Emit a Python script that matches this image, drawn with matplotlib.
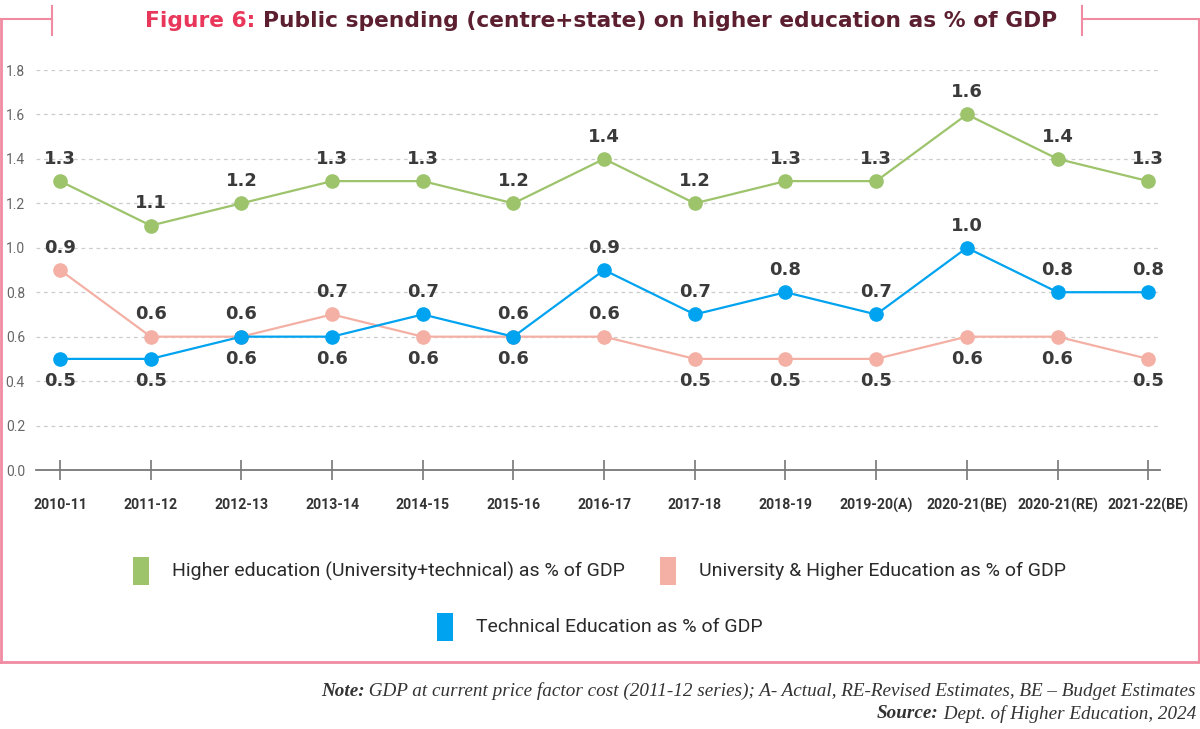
import matplotlib
matplotlib.use("Agg")
import matplotlib.pyplot as plt
from matplotlib.lines import Line2D
from matplotlib.patches import Rectangle

years = ["2010-11", "2011-12", "2012-13", "2013-14", "2014-15", "2015-16", "2016-17",
         "2017-18", "2018-19", "2019-20(A)", "2020-21(BE)", "2020-21(RE)", "2021-22(BE)"]
higher = [1.3, 1.1, 1.2, 1.3, 1.3, 1.2, 1.4, 1.2, 1.3, 1.3, 1.6, 1.4, 1.3]
university = [0.9, 0.6, 0.6, 0.7, 0.6, 0.6, 0.6, 0.5, 0.5, 0.5, 0.6, 0.6, 0.5]
technical = [0.5, 0.5, 0.6, 0.6, 0.7, 0.6, 0.9, 0.7, 0.8, 0.7, 1.0, 0.8, 0.8]
yticks = [0.0, 0.2, 0.4, 0.6, 0.8, 1.0, 1.2, 1.4, 1.6, 1.8]
names = ["Higher education (University+technical) as % of GDP",
         "University & Higher Education as % of GDP",
         "Technical Education as % of GDP"]

# label placement: 1 = above, -1 = below
pos_higher = [1] * 13
pos_univ = [1, 1, 1, 1, -1, -1, 1, -1, -1, -1, -1, -1, -1]
pos_tech = [-1, -1, -1, -1, 1, 1, 1, 1, 1, 1, 1, 1, 1]

c_green = "#9DC36B"
c_pink = "#F4B0A4"
c_blue = "#00A3EF"
c_frame = "#F08BA2"
narrow = ["Roboto", "DejaVu Sans"]

W, H = 1200, 729
fig = plt.figure(figsize=(12, 7.29), dpi=100)
fig.patch.set_facecolor("white")

ax = fig.add_axes([36 / W, 1 - 470 / H, (1160 - 36) / W, 400 / H])
x = list(range(len(years)))
ax.set_xlim(-0.265, len(years) - 1 + 0.13)
ax.set_ylim(0, 1.8)

for vals, col, pos in [(higher, c_green, pos_higher), (university, c_pink, pos_univ),
                       (technical, c_blue, pos_tech)]:
    ax.plot(x, vals, color=col, lw=1.6, marker="o", ms=9.5, zorder=3, clip_on=False)
    for xi, v, p in zip(x, vals, pos):
        ax.annotate(f"{v:.1f}", (xi, v), xytext=(0, 16 * p), textcoords="offset points",
                    ha="center", va="center", fontsize=13, fontweight="bold",
                    color="#3A3A3A", family="DejaVu Sans", zorder=4)

for t in yticks[1:]:
    ax.axhline(t, color="#CCCCCC", lw=0.9, ls=(0, (3, 3)), zorder=1)

for s in ["top", "right", "left"]:
    ax.spines[s].set_visible(False)
ax.spines["bottom"].set_color("#777777")
ax.spines["bottom"].set_linewidth(1.3)
ax.set_yticks(yticks)
ax.set_yticklabels([f"{t:.1f}" for t in yticks], fontsize=10, color="#666666", family=narrow)
ax.tick_params(axis="y", length=0, pad=8)
ax.set_xticks(x)
ax.set_xticklabels(years, fontsize=10.2, fontweight="bold", color="#333333", family=narrow)
ax.tick_params(axis="x", direction="inout", length=14, width=1.2, color="#777777", pad=13)

# legend
def legend_item(px, py, col, label):
    fig.add_artist(Rectangle((px / W, 1 - (py + 14) / H), 16 / W, 28 / H,
                             transform=fig.transFigure, color=col, lw=0))
    fig.text((px + 39) / W, 1 - py / H, label, fontsize=14, color="#2A2A2A",
             family=narrow, va="center", ha="left")

legend_item(133, 571, c_green, names[0])
legend_item(660, 571, c_pink, names[1])
legend_item(437, 627, c_blue, names[2])

# frame
def fline(x0, y0, x1, y1, lw=1.5):
    fig.add_artist(Line2D([x0 / W, x1 / W], [1 - y0 / H, 1 - y1 / H], color=c_frame,
                          lw=lw, transform=fig.transFigure))

fline(0, 19, 52, 19)
fline(1082, 19, 1199, 19)
fline(52, 6, 52, 35)
fline(1082, 6, 1082, 35)
fline(1, 19, 1, 662, lw=2)
fline(1198.5, 19, 1198.5, 662)
fline(0, 662, 1200, 662, lw=2)

fig.canvas.draw()
r = fig.canvas.get_renderer()

# title
t1 = fig.text(0, 0, "Figure 6: ", fontsize=15.7, fontweight="bold", color="#E8375A")
t2 = fig.text(0, 0, "Public spending (centre+state) on higher education as % of GDP",
              fontsize=15.7, fontweight="bold", color="#5B1F30")
w1 = t1.get_window_extent(r).width
w2 = t2.get_window_extent(r).width
start = 601 - (w1 + w2) / 2
ty = 1 - 21 / H
t1.set_position((start / W, ty)); t1.set_va("center")
t2.set_position(((start + w1) / W, ty)); t2.set_va("center")

# note / source
def rich_right(y, bold, rest):
    tr = fig.text(1196 / W, 1 - y / H, rest, fontsize=13.8, style="italic", color="#333333",
                  family="Liberation Serif", ha="right", va="center")
    wr = tr.get_window_extent(r).width
    fig.text((1196 - wr) / W, 1 - y / H, bold, fontsize=13.8, style="italic", fontweight="bold",
             color="#333333", family="Liberation Serif", ha="right", va="center")

rich_right(691, "Note:", " GDP at current price factor cost (2011-12 series); A- Actual, RE-Revised Estimates, BE \u2013 Budget Estimates")
rich_right(714, "Source:", " Dept. of Higher Education, 2024")

fig.savefig("out.png", dpi=100, facecolor="white")
